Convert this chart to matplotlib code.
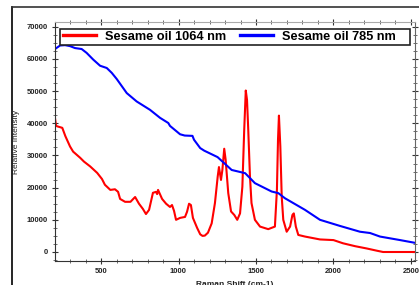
import matplotlib
matplotlib.use("Agg")
import matplotlib.pyplot as plt
from matplotlib.lines import Line2D
from matplotlib.patches import Rectangle
from matplotlib.ticker import MultipleLocator

plt.rcParams['font.family'] = ['Liberation Sans', 'DejaVu Sans']

# Sesame oil 1064 nm (red)
red_x = [203, 210, 222, 250, 270, 300, 320, 365, 390, 430, 475, 506, 525, 560, 590,
         610, 623, 655, 690, 720, 745, 770, 790, 810, 835, 855, 862, 868, 894, 920,
         945, 958, 971, 984, 1010, 1042, 1055, 1068, 1080, 1093, 1120, 1140, 1155,
         1170, 1190, 1214, 1235, 1253, 1261, 1274, 1283, 1295, 1304, 1321, 1339,
         1360, 1379, 1397, 1412, 1424, 1434, 1442, 1450, 1461, 1471, 1493, 1526,
         1579, 1622, 1635, 1642, 1648, 1657, 1666, 1676, 1698, 1720, 1735, 1744,
         1757, 1773, 1816, 1913, 2000, 2062, 2140, 2214, 2280, 2320, 2420, 2520]
red_y = [41600, 39200, 39000, 38600, 36000, 32800, 31200, 29300, 28100, 26600, 24600,
         22700, 20900, 19300, 19500, 18700, 16500, 15600, 15600, 17100, 15000, 13400,
         11800, 13100, 18400, 18700, 18000, 19300, 16500, 15000, 14000, 14600, 12800,
         10000, 10600, 10900, 12500, 15000, 14600, 10600, 7500, 5500, 5000, 5100,
         6000, 8900, 15200, 23500, 26400, 22400, 25500, 32100, 28700, 18300, 12600,
         11500, 10000, 12000, 20300, 38000, 50200, 47300, 38000, 23500, 15200, 10000,
         7900, 7100, 7900, 19300, 34900, 42400, 32800, 17200, 10000, 6300, 7900,
         11500, 12000, 7900, 5300, 4800, 3900, 3700, 2700, 1800, 1100, 400, 0, 0, 0]

# Sesame oil 785 nm (blue)
blue_x = [203, 236, 268, 300, 332, 375, 407, 450, 494, 537, 569, 601, 666, 730, 816,
          881, 934, 945, 1010, 1040, 1090, 1100, 1140, 1166, 1252, 1343, 1430, 1493,
          1601, 1644, 1687, 1816, 1913, 2042, 2171, 2236, 2300, 2430, 2520]
blue_y = [63100, 64200, 64300, 64000, 63400, 63100, 61900, 59800, 57900, 57200, 55700,
          53800, 49400, 46800, 44200, 41700, 40100, 39200, 36600, 36200, 36100, 34900,
          32300, 31500, 29500, 25500, 24500, 21400, 18800, 18300, 16700, 13100, 10000,
          8100, 6300, 5900, 4800, 3700, 2900]

labels = ["Sesame oil 1064 nm", "Sesame oil 785 nm"]

W, H = 419, 285
fig = plt.figure(figsize=(W / 100, H / 100), dpi=100)
ax = fig.add_axes([55 / W, (H - 261) / H, (415 - 55) / W, (261 - 22) / H])

ax.plot(red_x, red_y, color='#ff0000', lw=1.5, label=labels[0])
ax.plot(blue_x, blue_y, color='#0000ff', lw=1.5, label=labels[1])

ax.set_xlim(203, 2526)
ax.set_ylim(-2800, 71500)
ax.xaxis.set_major_locator(MultipleLocator(500))
ax.xaxis.set_minor_locator(MultipleLocator(100))
ax.yaxis.set_major_locator(MultipleLocator(10000))
ax.yaxis.set_minor_locator(MultipleLocator(2500))
ax.tick_params(which='major', direction='inout', length=4, width=0.8,
               top=True, right=True, labelsize=5.5, pad=3, colors='#333333')
ax.tick_params(which='minor', direction='inout', length=2.5, width=0.6,
               top=True, right=True, colors='#555555')
for lab in ax.get_xticklabels() + ax.get_yticklabels():
    lab.set_fontweight('bold')
    lab.set_color('#222222')

ax.spines['left'].set_color('#333333')
ax.spines['bottom'].set_color('#333333')
ax.spines['top'].set_color('#aaaaaa')
ax.spines['right'].set_color('#666666')

# legend box (frame drawn separately, entries packed to the left)
box = Rectangle((0.014, 0.904), 0.972, 0.067, transform=ax.transAxes,
                facecolor='white', edgecolor='#222222', lw=1.2, zorder=4)
ax.add_patch(box)
leg = ax.legend(loc='center left', bbox_to_anchor=(0.016, 0.9375),
                ncol=2, borderaxespad=0, frameon=False,
                prop={'weight': 'bold', 'size': 9.2}, handlelength=2.6,
                handletextpad=0.7, columnspacing=1.1, borderpad=0.15)
leg.set_zorder(5)
for h in leg.legend_handles:
    h.set_linewidth(2.4)

fig.text(16.5 / W, 1 - 142 / H, "Relative Intensity", rotation=90,
         ha='center', va='center', fontsize=6, color='#222222')
fig.text(234.5 / W, (H - 286.5) / H, "Raman Shift (cm-1)", ha='center',
         va='baseline', fontsize=6, fontweight='bold', color='#222222')

# outer frame of the screenshot
fig.add_artist(Line2D([12 / W, 12 / W], [0, 1 - 7 / H], transform=fig.transFigure,
                      color='black', lw=1.2))
fig.add_artist(Line2D([12 / W, 1], [1 - 7 / H, 1 - 7 / H], transform=fig.transFigure,
                      color='#333333', lw=1.2))

fig.savefig("out.png", dpi=100)
